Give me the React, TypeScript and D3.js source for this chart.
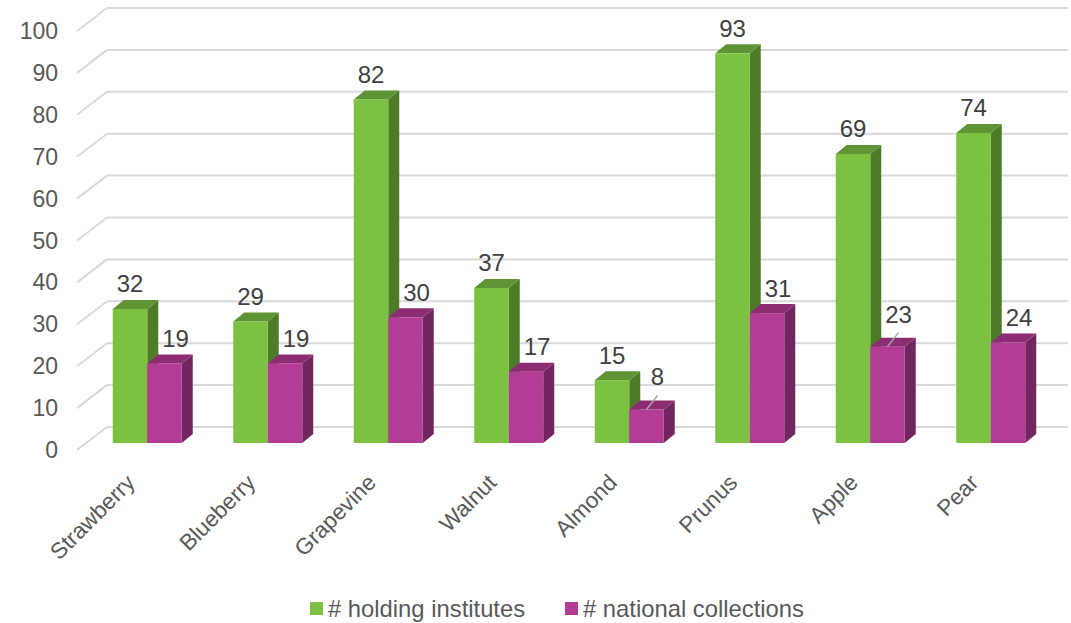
import * as d3 from 'd3';

const categories = ['Strawberry', 'Blueberry', 'Grapevine', 'Walnut', 'Almond', 'Prunus', 'Apple', 'Pear'];
const holdingInstitutes = [32, 29, 82, 37, 15, 93, 69, 74];
const nationalCollections = [19, 19, 30, 17, 8, 31, 23, 24];
// labels that Excel pushed up with a leader line
const nationalLeader = [false, false, false, false, true, false, true, false];
const yTicks = [0, 10, 20, 30, 40, 50, 60, 70, 80, 90, 100];
const seriesNames = ['# holding institutes', '# national collections'];

const W = 1071;
const H = 623;
const FONT = '"Liberation Sans", Arial, sans-serif';

// 3d depth offsets
const DX = 11;
const DY = -9;
// back wall sits further up/right than the bar fronts
const WALL_DX = 30;
const WALL_DY = -16;

const colors = [
  { front: '#7dc142', top: '#5e9434', side: '#4e7b28' },
  { front: '#b33d94', top: '#8c2d74', side: '#72265f' },
];

const App = () => {
  const x = d3
    .scaleBand<string>()
    .domain(categories)
    .range([87, 1051])
    .paddingInner(0.4274)
    .paddingOuter(0.2137);

  const xs = d3.scaleBand<number>().domain([0, 1]).range([0, x.bandwidth()]);

  const y = d3.scaleLinear().domain([0, 100]).range([443, 24]);
  const y0 = y(0);

  const series = [holdingInstitutes, nationalCollections];

  const bar = (i: number, s: number, v: number) => {
    const c = colors[s];
    const bx = (x(categories[i]) || 0) + (xs(s) || 0);
    const w = xs.bandwidth();
    const by = y(v);
    const top = `${bx},${by} ${bx + DX},${by + DY} ${bx + w + DX},${by + DY} ${bx + w},${by}`;
    const side = `${bx + w},${by} ${bx + w + DX},${by + DY} ${bx + w + DX},${y0 + DY} ${bx + w},${y0}`;
    return (
      <g key={`${i}-${s}`}>
        <polygon points={side} fill={c.side} />
        <polygon points={top} fill={c.top} />
        <rect x={bx} y={by} width={w} height={y0 - by} fill={c.front} />
      </g>
    );
  };

  const label = (i: number, s: number, v: number) => {
    const bx = (x(categories[i]) || 0) + (xs(s) || 0);
    const w = xs.bandwidth();
    const cx = bx + w / 2 + (s === 1 ? 11 : 0);
    const by = y(v);
    const lifted = s === 1 && nationalLeader[i];
    const ly = lifted ? by - 24 : by - 16.5;
    return (
      <g key={`l-${i}-${s}`}>
        {lifted && (
          <line x1={bx + w / 2} y1={by} x2={cx} y2={by - 14} stroke="#a6a6a6" strokeWidth={1.5} />
        )}
        <text x={cx} y={ly} textAnchor="middle" fontSize={24} fill="#404040" fontFamily={FONT}>
          {v}
        </text>
      </g>
    );
  };

  return (
    <svg width={W} height={H} style={{ position: 'absolute', left: 0, top: 0, background: '#fff' }}>
      {yTicks.map((t) => {
        const gy = y(t) + WALL_DY;
        return (
          <g key={t}>
            <line x1={77} y1={gy + 23} x2={77 + WALL_DX} y2={gy} stroke="#d9d9d9" strokeWidth={2} />
            <line x1={77 + WALL_DX} y1={gy} x2={1068} y2={gy} stroke="#d9d9d9" strokeWidth={2} />
            <text
              x={58}
              y={gy + 23}
              textAnchor="end"
              dominantBaseline="central"
              fontSize={23}
              fill="#595959"
              fontFamily={FONT}
            >
              {t}
            </text>
          </g>
        );
      })}

      {categories.map((_, i) => series.map((d, s) => bar(i, s, d[i])))}
      {categories.map((_, i) => series.map((d, s) => label(i, s, d[i])))}

      {categories.map((c) => {
        const cx = (x(c) || 0) + x.bandwidth() / 2 - 11;
        return (
          <text
            key={c}
            transform={`translate(${cx},484) rotate(-45)`}
            textAnchor="end"
            fontSize={22.5}
            fill="#595959"
            fontFamily={FONT}
          >
            {c}
          </text>
        );
      })}

      {seriesNames.map((n, s) => {
        const lx = s === 0 ? 310 : 565;
        return (
          <g key={n}>
            <rect x={lx} y={602} width={13} height={13} fill={colors[s].front} />
            <text x={lx + 18} y={616.5} fontSize={23.8} fill="#595959" fontFamily={FONT}>
              {n}
            </text>
          </g>
        );
      })}
    </svg>
  );
};

export default App;
